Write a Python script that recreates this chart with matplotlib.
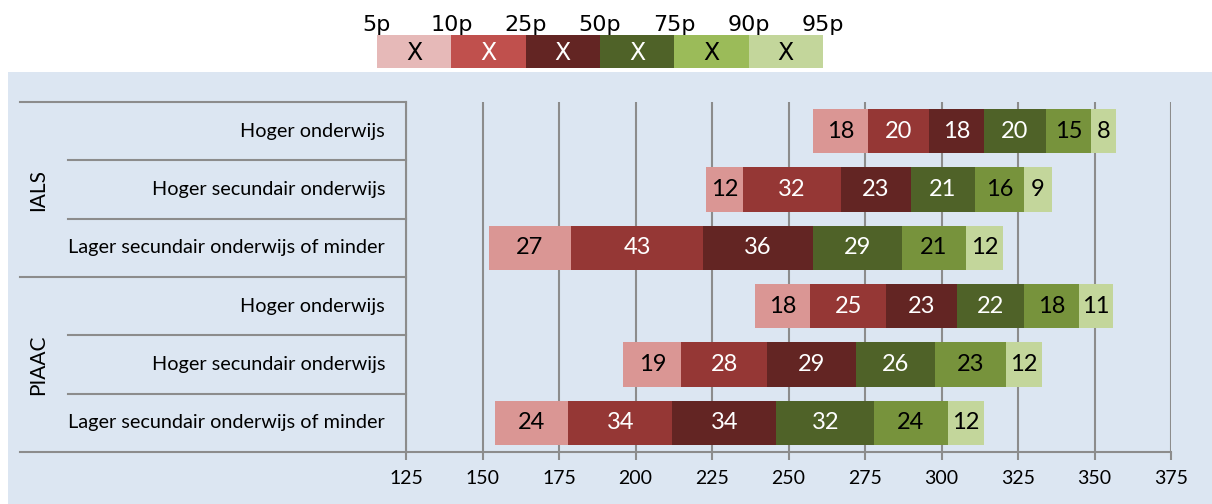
import numpy as np
import matplotlib.pyplot as plt
from matplotlib.patches import Rectangle
from matplotlib.transforms import blended_transform_factory

# ============================================================
# DONNEES
# ============================================================

groups = ['IALS', 'PIAAC']
categories = ['Hoger onderwijs', 'Hoger secundair onderwijs',
              'Lager secundair onderwijs of minder'] * 2

start_5p = [258, 223, 152, 239, 196, 154]
p5_10    = [18, 12, 27, 18, 19, 24]
p10_25   = [20, 32, 43, 25, 28, 34]
p25_50   = [18, 23, 36, 23, 29, 34]
p50_75   = [20, 21, 29, 22, 26, 32]
p75_90   = [15, 16, 21, 18, 23, 24]
p90_95   = [8, 9, 12, 11, 12, 12]

legend_labels = ['5p', '10p', '25p', '50p', '75p', '90p', '95p']
xticks = [125, 150, 175, 200, 225, 250, 275, 300, 325, 350, 375]

segments     = [p5_10, p10_25, p25_50, p50_75, p75_90, p90_95]
bar_colors   = ['#da9694', '#953735', '#632523', '#4f6228', '#77933c', '#c3d69b']
leg_colors   = ['#e6b9b8', '#c0504d', '#632523', '#4f6228', '#9bbb59', '#c3d69b']
text_colors  = ['black', 'white', 'white', 'white', 'black', 'black']

# ============================================================
# FIGURE
# ============================================================

W, H = 1212, 504
bg_blue = '#dce6f2'
line_col = '#8c8c8c'
font_chart = 'Lato'

fig = plt.figure(figsize=(W / 100, H / 100), dpi=100)
fig.patch.set_facecolor('white')

# fond bleu
fig.patches.append(Rectangle((8 / W, 0), 1 - 8 / W, (H - 72) / H,
                             transform=fig.transFigure, facecolor=bg_blue,
                             edgecolor='none', zorder=-10))

ax = fig.add_axes([406 / W, (H - 452) / H, (1171 - 406) / W, (452 - 102) / H])
ax.set_facecolor('none')

y = np.arange(len(categories))
left = np.array(start_5p, dtype=float)
for seg, col, tcol in zip(segments, bar_colors, text_colors):
    seg = np.array(seg, dtype=float)
    ax.barh(y, seg, left=left, height=0.76, color=col, edgecolor='none', zorder=3)
    for yi, l, w in zip(y, left, seg):
        ax.text(l + w / 2, yi, f'{int(w)}', ha='center', va='center',
                color=tcol, fontsize=17, family=font_chart, zorder=4)
    left = left + seg

ax.set_xlim(125, 375)
ax.set_ylim(len(categories) - 0.5, -0.5)
ax.set_xticks(xticks)
ax.set_xticklabels([str(t) for t in xticks], family=font_chart, fontsize=14)
ax.set_yticks([])
ax.xaxis.grid(True, color=line_col, linewidth=1.5, zorder=1)
ax.set_axisbelow(True)
ax.tick_params(axis='x', length=6, width=1.5, color=line_col, pad=7)
for s in ['top', 'right']:
    ax.spines[s].set_visible(False)
for s in ['left', 'bottom']:
    ax.spines[s].set_color(line_col)
    ax.spines[s].set_linewidth(1.5)

# axe des categories (multi-niveaux)
tr = blended_transform_factory(ax.transAxes, ax.transData)
x_long = -386 / 765
x_short = -338 / 765
n_per = len(categories) // len(groups)
for i in range(len(categories) + 1):
    yy = i - 0.5
    x0 = x_long if i % n_per == 0 else x_short
    ax.plot([x0, 0], [yy, yy], color=line_col, linewidth=1.5,
            transform=tr, clip_on=False, zorder=2)
for i, cat in enumerate(categories):
    ax.text(-21 / 765, i, cat, transform=tr, ha='right', va='center',
            fontsize=14.3, family=font_chart)
for g, name in enumerate(groups):
    yc = g * n_per + (n_per - 1) / 2
    ax.text(-368 / 765, yc, name, transform=tr, ha='center', va='center',
            rotation=90, fontsize=15, family=font_chart)

# ============================================================
# LEGENDE
# ============================================================

lax = fig.add_axes([377 / W, (H - 68) / H, (823 - 377) / W, 33 / H])
lax.set_xlim(0, len(leg_colors))
lax.set_ylim(0, 1)
lax.axis('off')
for i, (col, tcol) in enumerate(zip(leg_colors, text_colors)):
    lax.barh(0.5, 1, left=i, height=1, color=col, edgecolor='none')
    lax.text(i + 0.5, 0.45, 'X', ha='center', va='center', color=tcol, fontsize=17)
for i, lab in enumerate(legend_labels):
    lax.text(i, 1.0, lab, ha='center', va='bottom', fontsize=16)

plt.savefig('out.png', dpi=100, facecolor='white')
